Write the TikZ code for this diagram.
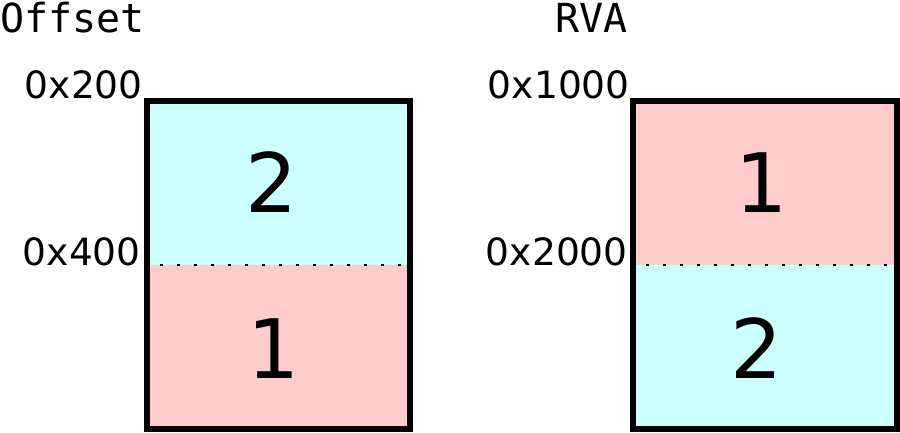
\documentclass[tikz,border=0pt]{standalone}
\usepackage{fontspec}
\setmainfont{DejaVu Sans}
\newfontfamily\monof{DejaVu Sans Mono}
\definecolor{secblue}{HTML}{CCFFFF}
\definecolor{secred}{HTML}{FFCCCC}
\begin{document}
\begin{tikzpicture}[x=1pt,y=-1pt,
  addr/.style={inner sep=0pt,anchor=base east,font=\fontsize{37.6}{40}\selectfont},
  head/.style={inner sep=0pt,anchor=base west,font=\monof\fontsize{40}{42}\selectfont},
  num/.style={inner sep=0pt,anchor=base,font=\fontsize{82}{86}\selectfont},
  frame/.style={draw=black,line width=5.5pt},
  sep/.style={draw=black,line width=2.5pt,dash pattern=on 2.5pt off 14.5pt}]
\useasboundingbox (0,0) rectangle (900,432);
% left box (Offset)
\fill[secblue] (147,101) rectangle (410,265);
\fill[secred] (147,265) rectangle (410,429);
\draw[sep] (160,265) -- (404,265);
\draw[frame] (147,101) rectangle (410,429);
\node[num] (l2) at (272,212) {2};
\node[num] (l1) at (274,378) {1};
\node[head] (offset) at (0,32) {Offset};
\node[addr] (a200) at (143,98) {0x200};
\node[addr] (a400) at (141,265) {0x400};
% right box (RVA)
\fill[secred] (633,101) rectangle (897,265);
\fill[secblue] (633,265) rectangle (897,429);
\draw[sep] (646,265) -- (892,265);
\draw[frame] (633,101) rectangle (897,429);
\node[num] (r1) at (762,212) {1};
\node[num] (r2) at (757,378) {2};
\node[head] (rva) at (555,32) {RVA};
\node[addr] (a1000) at (630,98) {0x1000};
\node[addr] (a2000) at (628,265) {0x2000};
\end{tikzpicture}
\end{document}
